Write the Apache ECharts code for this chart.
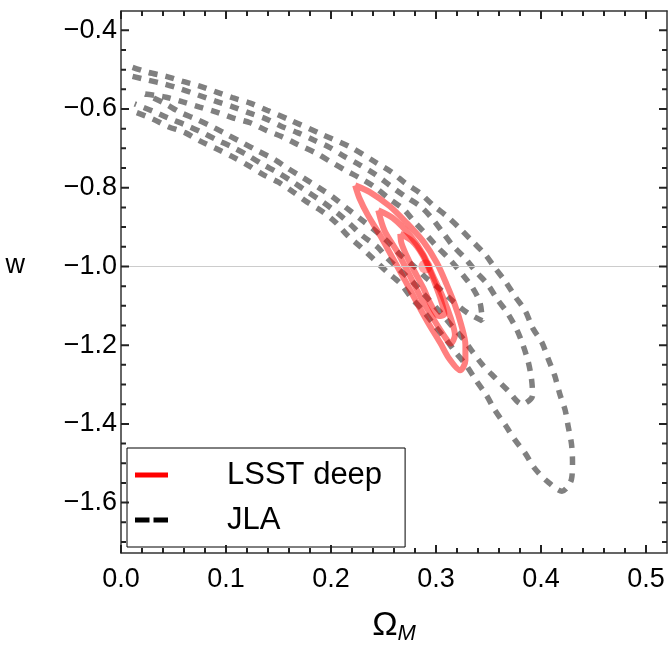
<!DOCTYPE html>
<html>
<head>
<meta charset="utf-8">
<script src="https://cdn.jsdelivr.net/npm/echarts@6/dist/echarts.min.js"></script>
<style>
  html, body { margin: 0; padding: 0; background: #fff; }
  #chart { width: 669px; height: 650px; }
</style>
</head>
<body>
<div id="chart"></div>
<script>
// axis ranges and ticks
var xMin = 0, xMax = 0.52;
var yMin = -1.728, yMax = -0.351;
var xMajor = [0, 0.1, 0.2, 0.3, 0.4, 0.5];
var xMinor = [0.02, 0.04, 0.06, 0.08, 0.12, 0.14, 0.16, 0.18, 0.22, 0.24, 0.26, 0.28,
              0.32, 0.34, 0.36, 0.38, 0.42, 0.44, 0.46, 0.48];
var yMajor = [-1.6, -1.4, -1.2, -1.0, -0.8, -0.6, -0.4];
var yMinor = [-1.7, -1.65, -1.55, -1.5, -1.45, -1.35, -1.3, -1.25, -1.15, -1.1, -1.05,
              -0.95, -0.9, -0.85, -0.75, -0.7, -0.65, -0.55, -0.5, -0.45];
var refW = -1.0;

// JLA contours [Omega_M, w]
var jlaOuter = [
  [0.011,-0.494],[0.026,-0.507],[0.043,-0.517],[0.059,-0.530],[0.075,-0.542],[0.091,-0.557],
  [0.107,-0.572],[0.123,-0.585],[0.139,-0.603],[0.161,-0.628],[0.190,-0.663],[0.218,-0.696],
  [0.244,-0.738],[0.258,-0.761],[0.271,-0.789],[0.285,-0.814],[0.297,-0.844],[0.311,-0.874],
  [0.323,-0.904],[0.335,-0.937],[0.347,-0.970],[0.356,-1.003],[0.366,-1.038],[0.375,-1.075],
  [0.385,-1.113],[0.392,-1.156],[0.401,-1.194],[0.407,-1.236],[0.413,-1.277],[0.418,-1.325],
  [0.423,-1.365],[0.426,-1.408],[0.429,-1.450],[0.430,-1.496],[0.429,-1.541],[0.420,-1.571],
  [0.406,-1.546],[0.394,-1.513],[0.385,-1.475],[0.375,-1.440],[0.366,-1.403],[0.356,-1.365],
  [0.348,-1.327],[0.338,-1.289],[0.329,-1.252],[0.319,-1.219],[0.309,-1.184],[0.298,-1.148],
  [0.288,-1.113],[0.277,-1.081],[0.266,-1.043],[0.253,-1.013],[0.240,-0.980],[0.228,-0.950],
  [0.216,-0.922],[0.204,-0.887],[0.191,-0.859],[0.177,-0.836],[0.164,-0.811],[0.150,-0.786],
  [0.135,-0.766],[0.121,-0.743],[0.106,-0.721],[0.091,-0.701],[0.075,-0.681],[0.061,-0.660],
  [0.045,-0.645],[0.030,-0.625],[0.014,-0.608]
];
var jlaMiddle = [
  [0.011,-0.517],[0.026,-0.527],[0.042,-0.537],[0.058,-0.550],[0.074,-0.565],[0.090,-0.580],
  [0.107,-0.595],[0.122,-0.610],[0.138,-0.625],[0.152,-0.643],[0.168,-0.660],[0.183,-0.678],
  [0.199,-0.698],[0.213,-0.721],[0.228,-0.743],[0.242,-0.766],[0.256,-0.794],[0.270,-0.821],
  [0.285,-0.847],[0.295,-0.874],[0.306,-0.912],[0.316,-0.947],[0.328,-0.980],[0.338,-1.013],
  [0.349,-1.045],[0.359,-1.086],[0.368,-1.118],[0.377,-1.161],[0.383,-1.201],[0.388,-1.244],
  [0.391,-1.287],[0.392,-1.327],[0.382,-1.350],
  [0.368,-1.314],[0.356,-1.282],[0.345,-1.252],[0.334,-1.214],[0.325,-1.181],[0.314,-1.148],
  [0.303,-1.113],[0.290,-1.075],[0.278,-1.040],[0.266,-1.010],[0.254,-0.980],[0.244,-0.950],
  [0.230,-0.922],[0.218,-0.892],[0.206,-0.864],[0.192,-0.836],[0.178,-0.811],[0.164,-0.786],
  [0.149,-0.761],[0.135,-0.741],[0.121,-0.718],[0.107,-0.698],[0.091,-0.678],[0.076,-0.658],
  [0.061,-0.640],[0.045,-0.623],[0.030,-0.605],[0.013,-0.587]
];
var jlaInner = [
  [0.023,-0.562],[0.043,-0.570],[0.059,-0.582],[0.075,-0.595],[0.091,-0.608],[0.107,-0.623],
  [0.123,-0.635],[0.139,-0.655],[0.153,-0.670],[0.169,-0.691],[0.185,-0.711],[0.199,-0.733],
  [0.214,-0.756],[0.228,-0.776],[0.242,-0.799],[0.256,-0.829],[0.269,-0.854],[0.278,-0.882],
  [0.289,-0.914],[0.301,-0.950],[0.313,-0.982],[0.326,-1.023],[0.335,-1.055],[0.342,-1.093],
  [0.344,-1.138],
  [0.330,-1.118],[0.316,-1.088],[0.304,-1.058],[0.291,-1.030],[0.278,-0.997],[0.266,-0.970],
  [0.254,-0.937],[0.242,-0.909],[0.228,-0.879],[0.215,-0.852],[0.202,-0.824],[0.188,-0.799],
  [0.173,-0.774],[0.159,-0.751],[0.146,-0.728],[0.130,-0.706],[0.116,-0.686],[0.101,-0.665],
  [0.087,-0.645],[0.071,-0.625],[0.056,-0.608],[0.041,-0.585],[0.023,-0.562]
];

// LSST deep contours [Omega_M, w]
var lsstOuter = [
  [0.223,-0.794],[0.237,-0.811],[0.256,-0.847],[0.272,-0.889],[0.288,-0.937],[0.301,-0.992],
  [0.310,-1.045],[0.318,-1.098],[0.324,-1.148],[0.328,-1.199],[0.328,-1.239],[0.323,-1.264],
  [0.313,-1.236],[0.304,-1.194],[0.292,-1.141],[0.281,-1.088],[0.270,-1.033],[0.258,-0.975],
  [0.247,-0.922],[0.235,-0.869],[0.227,-0.826],[0.223,-0.794]
];
var lsstMiddle = [
  [0.245,-0.857],[0.259,-0.877],[0.275,-0.920],[0.288,-0.970],[0.297,-1.023],[0.307,-1.081],
  [0.314,-1.131],[0.318,-1.174],[0.314,-1.196],[0.309,-1.181],[0.297,-1.131],[0.286,-1.081],
  [0.275,-1.023],[0.263,-0.962],[0.251,-0.909],[0.245,-0.857]
];
var lsstInner = [
  [0.266,-0.917],[0.277,-0.935],[0.287,-0.970],[0.294,-1.010],[0.300,-1.050],[0.305,-1.088],
  [0.308,-1.121],[0.303,-1.126],[0.295,-1.096],[0.288,-1.055],[0.279,-1.010],[0.271,-0.967],
  [0.267,-0.940],[0.266,-0.917]
];
var fiducial = [[0.29, -1.0]];

var FONT = 'Liberation Sans, Arial, sans-serif';
var frameColor = '#333';
var G = { left: 121, right: 2, top: 11, bottom: 93 };
var plotW = 669 - G.left - G.right, plotH = 650 - G.top - G.bottom;

function fmtX(v) { return v.toFixed(1); }
function fmtY(v) { return (v < 0 ? '\u2212' : '') + Math.abs(v).toFixed(1); }

var lineSt = { color: frameColor, width: 1.5 };

// all frame ticks in one line series; each tick is a two-point run, runs split by empty items
function tickData(values, isX, px) {
  var d = isX ? px * (yMax - yMin) / plotH : px * (xMax - xMin) / plotW;
  var out = [];
  values.forEach(function (v) {
    if (isX) {
      out.push([v, yMin], [v, yMin + d], '-', [v, yMax], [v, yMax - d], '-');
    } else {
      out.push([xMin, v], [xMin + d, v], '-', [xMax, v], [xMax - d, v], '-');
    }
  });
  return out;
}
var ticks = {
  type: 'line', symbol: 'none', showSymbol: false, silent: true, connectNulls: false,
  clip: false, z: 10, smooth: false,
  lineStyle: { color: '#222', width: 2, cap: 'butt' },
  data: tickData(xMajor, true, 8).concat(tickData(xMinor, true, 5),
        tickData(yMajor, false, 8), tickData(yMinor, false, 5))
};

var xAxes = [
  { type: 'value', position: 'bottom', min: xMin, max: xMax,
    axisLine: { show: true, onZero: false, lineStyle: lineSt }, axisTick: { show: false },
    splitLine: { show: false },
    axisLabel: { customValues: xMajor, formatter: fmtX, margin: 13, fontSize: 27, color: '#000', fontFamily: FONT },
    name: '{a|\u03a9}{b|M}', nameLocation: 'middle', nameGap: 54,
    nameTextStyle: { fontFamily: FONT, color: '#000',
      rich: { a: { fontSize: 34, fontFamily: FONT, color: '#000' },
              b: { fontSize: 22, fontStyle: 'italic', fontFamily: FONT, color: '#000', padding: [16, 0, 0, 0] } } } },
  { type: 'value', position: 'top', min: xMin, max: xMax,
    axisLine: { show: true, onZero: false, lineStyle: lineSt }, axisTick: { show: false },
    axisLabel: { show: false }, splitLine: { show: false } }
];

var yAxes = [
  { type: 'value', position: 'left', min: yMin, max: yMax,
    axisLine: { show: true, onZero: false, lineStyle: lineSt }, axisTick: { show: false },
    splitLine: { show: false },
    axisLabel: { customValues: yMajor, formatter: fmtY, margin: 4, fontSize: 27, color: '#000', fontFamily: FONT },
    name: '{w|w}', nameLocation: 'middle', nameRotate: 0, nameGap: 96,
    nameTextStyle: { fontFamily: FONT, color: '#000',
      rich: { w: { fontSize: 27, fontFamily: FONT, color: '#000', padding: [0, 0, 32, 0] } } } },
  { type: 'value', position: 'right', min: yMin, max: yMax,
    axisLine: { show: true, onZero: false, lineStyle: lineSt }, axisTick: { show: false },
    axisLabel: { show: false }, splitLine: { show: false } }
];

function jla(data) {
  return {
    name: 'JLA', type: 'line', data: data, symbol: 'none', showSymbol: false, smooth: 0.3,
    z: 2, silent: true,
    lineStyle: { color: '#808080', width: 5.5, type: [9, 8], cap: 'butt' }
  };
}
function lsst(data) {
  return {
    name: 'LSST deep', type: 'line', data: data, symbol: 'none', showSymbol: false, smooth: 0.3,
    z: 3, silent: true,
    lineStyle: { color: 'rgba(255,0,0,0.5)', width: 6, type: 'solid' }
  };
}

var series = [jla(jlaOuter), jla(jlaMiddle), jla(jlaInner),
              lsst(lsstOuter), lsst(lsstMiddle), lsst(lsstInner),
              { name: 'fiducial', type: 'scatter', data: fiducial, symbolSize: 14, z: 3, silent: true,
                itemStyle: { color: 'rgba(255,0,0,0.45)' } },
              ticks];
series[0].markLine = {
  silent: true, symbol: ['none', 'none'], label: { show: false },
  lineStyle: { color: '#cccccc', width: 1, type: 'solid' },
  data: [{ yAxis: refW }]
};

var chart = echarts.init(document.getElementById('chart'));
chart.setOption({
  animation: false,
  backgroundColor: '#fff',
  grid: G,
  xAxis: xAxes,
  yAxis: yAxes,
  legend: {
    orient: 'vertical', left: 127, top: 448, padding: [9, 23, 9, 8], itemGap: 9,
    itemWidth: 33, itemHeight: 5, selectedMode: false,
    backgroundColor: '#fff', borderColor: '#000', borderWidth: 1, borderRadius: 0,
    textStyle: { fontSize: 31, lineHeight: 36, color: '#000', fontFamily: FONT, padding: [0, 0, 0, 54] },
    data: [
      { name: 'LSST deep', icon: 'path://M0,0H33V5H0Z',
        itemStyle: { color: '#ff0000', borderWidth: 0, opacity: 1 } },
      { name: 'JLA', icon: 'path://M0,0H14.5V5H0Z M18.5,0H33V5H18.5Z',
        itemStyle: { color: '#000000', borderWidth: 0, opacity: 1 } }
    ]
  },
  series: series
});
</script>
</body>
</html>
